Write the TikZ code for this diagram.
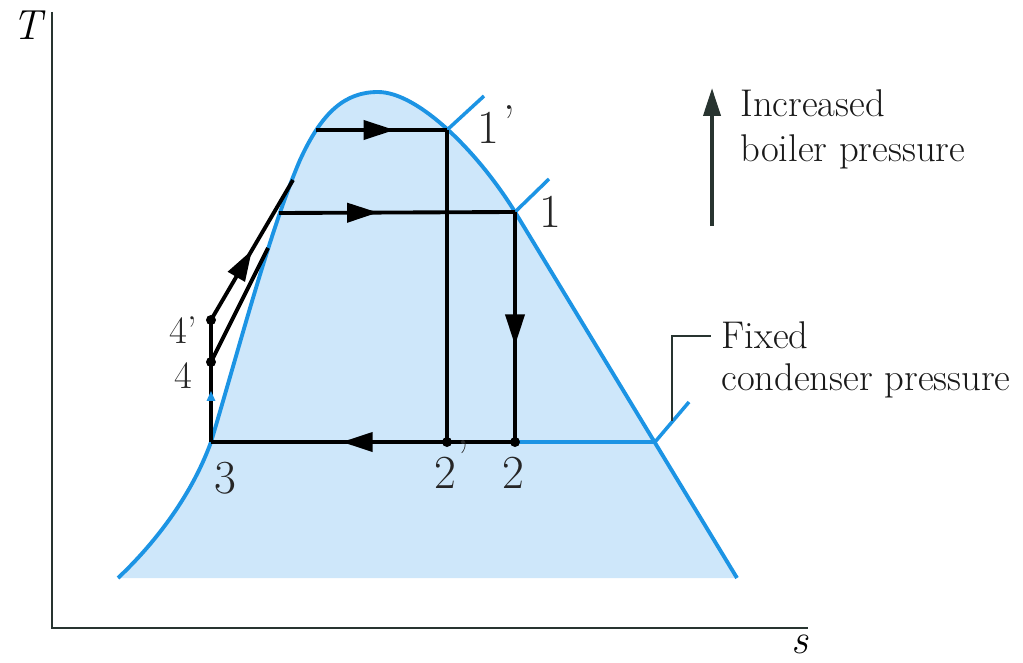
\documentclass[tikz,border=0pt]{standalone}
\usepackage{tikz}
\usetikzlibrary{arrows.meta, decorations.markings, positioning}
\definecolor{domeblue}{RGB}{28,148,228}
\definecolor{domefill}{RGB}{206,231,250}
\definecolor{axisgray}{RGB}{40,52,48}
\tikzset{
  dome/.style={draw=domeblue, line width=2.2pt, line join=round},
  cycleline/.style={draw=black, line width=2.2pt},
  isobar/.style={draw=domeblue, line width=2pt},
  axisline/.style={draw=axisgray, line width=1.6pt},
  leader/.style={draw=axisgray, line width=1.4pt},
  lbl/.style={font=\fontsize{27}{27}\selectfont, inner sep=0pt, text=black!85},
  smalllbl/.style={font=\fontsize{22}{22}\selectfont, inner sep=0pt, text=black!85},
  note/.style={font=\fontsize{22}{26}\selectfont, align=left, inner sep=0pt,
               anchor=north west, text=black!90},
  midarrow/.style={postaction={decorate}, decoration={markings,
      mark=at position #1 with {\arrow{Triangle[length=0.62cm,width=0.38cm]}}}},
  pumparrow/.style={postaction={decorate}, decoration={markings,
      mark=at position #1 with {\arrow[domeblue]{Triangle[length=0.2cm,width=0.16cm]}}}},
  statedot/.style={circle, fill=black, inner sep=0pt, minimum size=0.2cm}
}

\begin{document}
\begin{tikzpicture}[x=0.02cm, y=-0.02cm]
  \useasboundingbox (0,0) rectangle (1023,662);

  % Axes
  \coordinate (ytop) at (52,12);
  \coordinate (origin) at (52,628);
  \coordinate (xend) at (808,628);
  \draw[axisline] (ytop) -- (origin) -- (xend);
  \node[font=\fontsize{24}{24}\selectfont\itshape, inner sep=0pt] (Tlab) at (27,25) {T};
  \node[font=\fontsize{24}{24}\selectfont\itshape, inner sep=0pt] (slab) at (800,644) {s};

  % State points
  \coordinate (s3) at (211,442);
  \coordinate (s4) at (211,362);
  \coordinate (s4p) at (211,320);
  \coordinate (s2) at (515,442);
  \coordinate (s2p) at (447,442);
  \coordinate (s1) at (515,212);
  \coordinate (s1p) at (447,130);
  \coordinate (f) at (279,213);
  \coordinate (fp) at (316,130);
  \coordinate (g) at (655,442);
  \coordinate (a) at (293,180);
  \coordinate (b) at (268,248);

  % Vapour dome
  \fill[domefill] (118,578) .. controls (150,548) and (190,500) .. (s3)
      .. controls (240,345) and (270,230) .. (300,160)
      .. controls (322,112) and (345,92) .. (378,92)
      .. controls (418,92) and (478,152) .. (s1) -- (737,578) -- cycle;
  \draw[dome] (118,578) .. controls (150,548) and (190,500) .. (s3)
      .. controls (240,345) and (270,230) .. (300,160)
      .. controls (322,112) and (345,92) .. (378,92)
      .. controls (418,92) and (478,152) .. (s1) -- (737,578);
  \draw[dome] (s2) -- (g);

  % Isobar ticks
  \draw[isobar] (s1p) -- ++(37,-34);
  \draw[isobar] (s1) -- ++(34,-33);
  \draw[isobar] (g) -- ++(34,-40);

  % Cycle lines
  \draw[cycleline, midarrow=0.6] (fp) -- (s1p);
  \draw[cycleline, midarrow=0.42] (f) -- (s1);
  \draw[cycleline] (s1p) -- (s2p);
  \draw[cycleline, midarrow=0.58] (s1) -- (s2);
  \draw[cycleline, midarrow=0.57] (s2) -- (s3);
  \draw[cycleline, pumparrow=0.42] (s3) -- (s4p);
  \draw[cycleline, midarrow=0.5] (s4p) -- (a);
  \draw[cycleline] (s4) -- (b);

  % Dots
  \node[statedot] (d4p) at (s4p) {};
  \node[statedot] (d4) at (s4) {};
  \node[statedot] (d2p) at (s2p) {};
  \node[statedot] (d2) at (s2) {};

  % Labels
  \node[lbl] (l1p) at (488,128) {1};
  \node[lbl] (l1pm) at (509,122) {’};
  \node[lbl] (l1) at (550,212) {1};
  \node[lbl] (l2p) at (445,473) {2};
  \node[lbl] (l2pm) at (463,457) {’};
  \node[lbl] (l2) at (513,473) {2};
  \node[lbl] (l3) at (225,478) {3};
  \node[smalllbl] (l4p) at (183,330) {4’};
  \node[smalllbl] (l4) at (183,376) {4};

  % Boiler pressure note
  \coordinate (upbot) at (712,226);
  \coordinate (uptop) at (712,88);
  \draw[-{Triangle[length=0.56cm,width=0.34cm]}, line width=2.2pt, axisgray] (upbot) -- (uptop);
  \node[note] (boiler) at (740,89) {Increased\\boiler pressure};

  % Condenser pressure note
  \node[note, font=\fontsize{22}{24}\selectfont] (cond) at (721,321) {Fixed\\condenser pressure};
  \coordinate (leadbot) at (672,421);
  \coordinate (leadtop) at (672,336);
  \coordinate (leadend) at (711,336);
  \draw[leader] (leadbot) -- (leadtop) -- (leadend);
\end{tikzpicture}
\end{document}
